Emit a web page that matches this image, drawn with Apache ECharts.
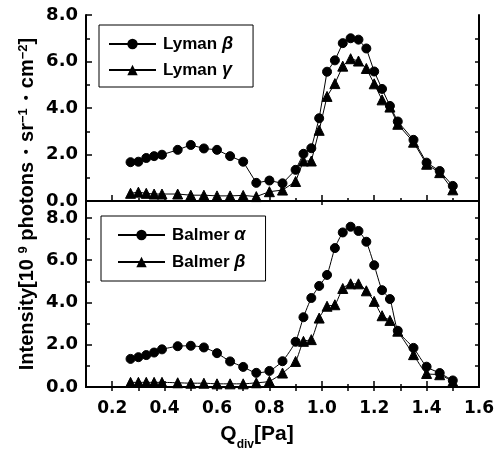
<!DOCTYPE html>
<html>
<head>
<meta charset="utf-8">
<script src="https://cdn.jsdelivr.net/npm/echarts@6/dist/echarts.min.js"></script>
<style>html,body{margin:0;padding:0;background:#fff;}#c{width:500px;height:457px;}</style>
</head>
<body>
<div id="c"></div>
<script>
// ---- data ----
var qDiv = [0.27,0.30,0.33,0.36,0.39,0.45,0.50,0.55,0.60,0.65,0.70,0.75,0.80,0.85,0.90,0.93,0.96,0.99,1.02,1.05,1.08,1.11,1.14,1.17,1.20,1.23,1.26,1.29,1.35,1.40,1.45,1.50];
var lymanBeta = [1.67,1.69,1.85,1.93,1.99,2.20,2.41,2.26,2.20,1.93,1.69,0.78,0.88,0.76,1.34,2.03,2.27,3.56,5.56,6.05,6.79,7.00,6.94,6.56,5.57,4.82,4.09,3.42,2.63,1.65,1.29,0.65];
var lymanGamma = [0.33,0.38,0.33,0.30,0.30,0.30,0.25,0.25,0.22,0.22,0.24,0.19,0.40,0.47,0.84,1.72,1.72,3.04,4.50,5.05,5.80,6.12,6.02,5.70,5.04,4.35,4.04,3.30,2.53,1.58,1.22,0.48];
var balmerAlpha = [1.33,1.41,1.51,1.63,1.78,1.93,1.95,1.87,1.60,1.21,0.95,0.67,0.76,1.22,2.14,3.30,4.21,4.78,5.30,6.57,7.31,7.58,7.38,6.87,5.76,4.58,4.16,2.66,1.85,0.96,0.66,0.31];
var balmerBeta = [0.22,0.22,0.22,0.22,0.22,0.20,0.18,0.18,0.15,0.15,0.15,0.20,0.27,0.66,1.21,2.16,2.24,3.26,3.82,3.89,4.66,4.88,4.88,4.55,4.05,3.37,3.15,2.64,1.53,0.64,0.58,0.26];
var xMajorTicks = [0.2,0.4,0.6,0.8,1.0,1.2,1.4,1.6];
var xMinorTicks = [0.2,0.3,0.4,0.5,0.6,0.7,0.8,0.9,1.0,1.1,1.2,1.3,1.4,1.5];
var yMajorTicks = [0,2,4,6,8];
var yMinorTicks = [1,3,5,7];
var yRightTicksTop = [1,2,3,4,5,6,7];
var yRightTicksBottom = [1,2,3,4,5,6,7,8];

function pairs(xs, ys){ return xs.map(function(x,i){ return [x, ys[i]]; }); }

var FONT = 'Liberation Sans, Arial, sans-serif';
var TICKFONT = 'DejaVu Sans, sans-serif';
var black = '#000';

function xAxisBase(grid, pos){
  return {type:'value', gridIndex:grid, position:pos, min:0.1, max:1.6, interval:0.1,
    splitLine:{show:false}, axisLine:{show:false, lineStyle:{color:black,width:2}},
    axisTick:{show:false}, axisLabel:{show:false}};
}
function yAxisBase(grid, pos, max){
  return {type:'value', gridIndex:grid, position:pos, min:0, max:max, interval:1,
    splitLine:{show:false}, axisLine:{show:false, lineStyle:{color:black,width:2}},
    axisTick:{show:false}, axisLabel:{show:false}};
}

var xAxes = [];
var a = xAxisBase(0,'bottom'); a.axisLine.show = true;
a.axisTick = {show:true, inside:true, length:6, customValues:xMajorTicks, lineStyle:{color:black,width:1.5}};
xAxes.push(a);
a = xAxisBase(1,'bottom'); a.axisLine.show = true;
a.axisTick = {show:true, inside:true, length:6, customValues:xMajorTicks, lineStyle:{color:black,width:1.5}};
a.axisLabel = {show:true, customValues:xMajorTicks, margin:13, color:black, fontFamily:TICKFONT, fontWeight:'bold', fontSize:17,
  formatter:function(v){ return v.toFixed(1); }};
xAxes.push(a);
a = xAxisBase(0,'bottom'); a.axisTick = {show:true, inside:true, length:3, customValues:xMinorTicks, lineStyle:{color:black,width:1.5}}; xAxes.push(a);
a = xAxisBase(1,'bottom'); a.axisTick = {show:true, inside:true, length:3, customValues:xMinorTicks, lineStyle:{color:black,width:1.5}}; xAxes.push(a);
a = xAxisBase(0,'top'); a.axisLine.show = true;
a.axisTick = {show:true, inside:true, length:4, customValues:[1.0], lineStyle:{color:black,width:1.5}}; xAxes.push(a);
a = xAxisBase(1,'top'); a.axisLine.show = true;
a.axisTick = {show:true, inside:true, length:4, customValues:xMinorTicks, lineStyle:{color:black,width:1.5}}; xAxes.push(a);

var yAxes = [];
var ylab = {show:true, customValues:yMajorTicks, margin:8, color:black, fontFamily:TICKFONT, fontWeight:'bold', fontSize:18,
  formatter:function(v){ return v.toFixed(1); }};
var b = yAxisBase(0,'left',8); b.axisLine.show = true;
b.axisTick = {show:true, inside:true, length:6, customValues:yMajorTicks, lineStyle:{color:black,width:1.5}};
b.axisLabel = Object.assign({}, ylab); yAxes.push(b);
b = yAxisBase(1,'left',8.75); b.axisLine.show = true;
b.axisTick = {show:true, inside:true, length:6, customValues:yMajorTicks, lineStyle:{color:black,width:1.5}};
b.axisLabel = Object.assign({}, ylab); yAxes.push(b);
b = yAxisBase(0,'left',8); b.axisTick = {show:true, inside:true, length:4, customValues:yMinorTicks, lineStyle:{color:black,width:1.5}}; yAxes.push(b);
b = yAxisBase(1,'left',8.75); b.axisTick = {show:true, inside:true, length:4, customValues:yMinorTicks, lineStyle:{color:black,width:1.5}}; yAxes.push(b);
b = yAxisBase(0,'right',8); b.axisLine.show = true;
b.axisTick = {show:true, inside:true, length:4, customValues:yRightTicksTop, lineStyle:{color:black,width:1.5}}; yAxes.push(b);
b = yAxisBase(1,'right',8.75); b.axisLine.show = true;
b.axisTick = {show:true, inside:true, length:4, customValues:yRightTicksBottom, lineStyle:{color:black,width:1.5}}; yAxes.push(b);

function mkSeries(name, data, xi, yi, sym, size, smooth){
  return {type:'line', name:name, data:data, xAxisIndex:xi, yAxisIndex:yi,
    symbol:sym, symbolSize:size, showSymbol:true, smooth:smooth, animation:false,
    lineStyle:{color:black, width:1}, itemStyle:{color:black, borderColor:black}};
}

var legendRich = {
  a:{fontFamily:FONT, fontWeight:'bold', fontSize:17, color:black},
  b:{fontFamily:FONT, fontWeight:'bold', fontStyle:'italic', fontSize:18, color:black}
};
function legendFmt(name){ var p = name.split(' '); return '{a|' + p[0] + ' }{b|' + p[1] + '}'; }

var option = {
  backgroundColor:'#fff',
  animation:false,
  grid:[
    {left:86, top:15, width:393, height:186},
    {left:86, top:202, width:393, height:185}
  ],
  xAxis:xAxes,
  yAxis:yAxes,
  legend:[
    {left:99, top:25, orient:'vertical', data:['Lyman β','Lyman γ'], itemWidth:47, itemHeight:13, itemGap:8,
     padding:[10,20,8,9], borderColor:black, borderWidth:1, selectedMode:false, formatter:legendFmt,
     textStyle:{padding:[0,0,0,2], rich:legendRich}},
    {left:101, top:216, orient:'vertical', data:['Balmer α','Balmer β'], itemWidth:47, itemHeight:13, itemGap:9,
     padding:[10,20,10,16], borderColor:black, borderWidth:1, selectedMode:false, formatter:legendFmt,
     textStyle:{padding:[0,0,0,2], rich:legendRich}}
  ],
  series:[
    mkSeries('Lyman β', pairs(qDiv, lymanBeta), 0, 0, 'circle', 9, false),
    mkSeries('Lyman γ', pairs(qDiv, lymanGamma), 0, 0, 'triangle', 10, false),
    mkSeries('Balmer α', pairs(qDiv, balmerAlpha), 1, 1, 'circle', 9, 0.2),
    mkSeries('Balmer β', pairs(qDiv, balmerBeta), 1, 1, 'triangle', 10, 0.2)
  ],
  graphic:[
    {type:'text', x:27, y:204, rotation:Math.PI/2,
     style:{text:'{m|Intensity[10 }{s|9}{m| photons}{m|・}{m|sr}{s|−1}{m|・}{m|cm}{s|−2}{m|]}',
       align:'center', verticalAlign:'middle', fill:black,
       rich:{
         m:{fontFamily:FONT, fontWeight:'bold', fontSize:20, color:black, lineHeight:21, verticalAlign:'bottom'},
         s:{fontFamily:FONT, fontWeight:'bold', fontSize:13, color:black, lineHeight:21, verticalAlign:'top'}
       }}},
    {type:'text', x:257, y:437,
     style:{text:'{q|Q}{d|div}{q|[Pa]}', align:'center', verticalAlign:'middle', fill:black,
       rich:{
         q:{fontFamily:FONT, fontWeight:'bold', fontSize:21, color:black, lineHeight:27, verticalAlign:'top'},
         d:{fontFamily:FONT, fontWeight:'bold', fontSize:12, color:black, lineHeight:27, verticalAlign:'bottom'}
       }}}
  ]
};
var chart = echarts.init(document.getElementById('c'), null, {renderer:'canvas'});
chart.setOption(option);
</script>
</body>
</html>
